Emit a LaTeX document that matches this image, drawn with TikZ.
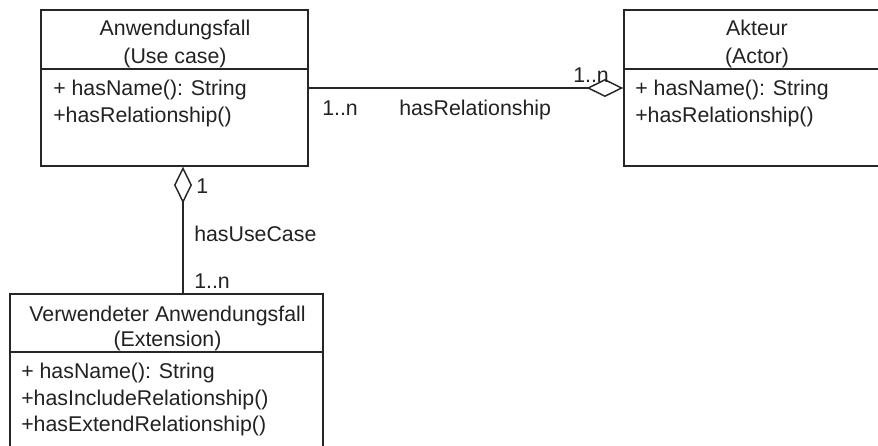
\documentclass[tikz,border=0pt]{standalone}
\usepackage{fontspec}
\setmainfont{Liberation Sans}
\usetikzlibrary{arrows.meta}
\definecolor{umlline}{HTML}{262626}
\definecolor{umltext}{HTML}{222222}
\begin{document}
\begin{tikzpicture}[x=0.75pt,y=-0.75pt,
  umlbox/.style={draw=umlline, line width=1.1pt, inner sep=0pt, fill=white},
  txt/.style={inner sep=0pt, text=umltext, font=\fontsize{16}{19}\selectfont},
  title/.style={txt, anchor=base},
  member/.style={txt, anchor=base west},
  lbl/.style={txt, anchor=base west},
  divider/.style={draw=umlline, line width=1.1pt},
  agg/.style={draw=umlline, line width=1.1pt,
    {Diamond[open, length=27.5pt, width=13.5pt, line width=1.1pt]}-}]

\useasboundingbox (0,0) rectangle (878,446);
\clip (0,0) rectangle (878,446);

% class boxes
\node[umlbox, minimum width=200.25pt, minimum height=117pt] (uc) at (174.5,88) {};
\node[umlbox, minimum width=198.75pt, minimum height=117pt] (act) at (756.5,88) {};
\node[umlbox, minimum width=234.75pt, minimum height=132pt] (ext) at (166.5,382) {};

% compartment dividers
\coordinate (ucdiv) at (0,69);
\coordinate (actdiv) at (0,69);
\coordinate (extdiv) at (0,352);
\draw[divider] (uc.west |- ucdiv) -- (uc.east |- ucdiv);
\draw[divider] (act.west |- actdiv) -- (act.east |- actdiv);
\draw[divider] (ext.west |- extdiv) -- (ext.east |- extdiv);

% Anwendungsfall
\node[title] (ucname) at (175,36) {Anwendungsfall};
\node[title] (ucsub) at (175,63) {(Use case)};
\node[member] (ucm1) at (53,95) {+ hasName(): String};
\node[member] (ucm2) at (53,122) {+hasRelationship()};

% Akteur
\node[title] (actname) at (757,36) {Akteur};
\node[title] (actsub) at (757,63) {(Actor)};
\node[member] (actm1) at (635,95) {+ hasName(): String};
\node[member] (actm2) at (635,122) {+hasRelationship()};

% Verwendeter Anwendungsfall
\node[title] (extname) at (167.5,321.7) {Verwendeter Anwendungsfall};
\node[title] (extsub) at (167.5,346.7) {(Extension)};
\node[member] (extm1) at (21,378) {+ hasName(): String};
\node[member] (extm2) at (21,405) {+hasIncludeRelationship()};
\node[member] (extm3) at (21,431.7) {+hasExtendRelationship()};

% associations
\draw[agg] (act.west) -- (uc.east);
\coordinate (lx) at (183,0);
\draw[agg] (uc.south -| lx) -- (ext.north -| lx);

% association labels
\node[lbl] (m1) at (322,115) {1..n};
\node[lbl] (r1) at (399,115) {hasRelationship};
\node[lbl] (m2) at (573,82.7) {1..n};
\node[lbl] (m3) at (196,193) {1};
\node[lbl] (r2) at (194,241.7) {hasUseCase};
\node[lbl] (m4) at (194,288) {1..n};
\end{tikzpicture}
\end{document}
